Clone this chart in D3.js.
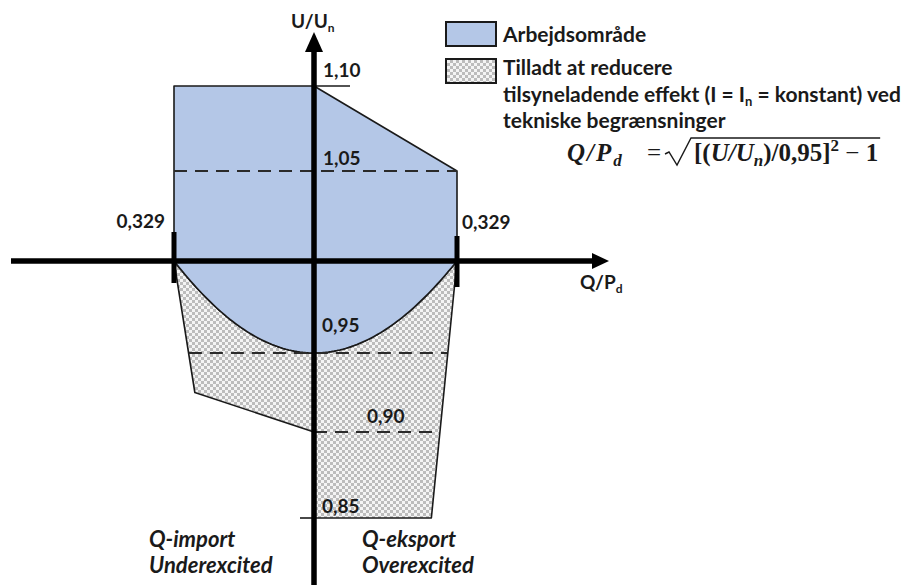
<!DOCTYPE html>
<html>
<head>
<meta charset="utf-8">
<script src="https://cdn.jsdelivr.net/npm/d3@7"></script>
<style>
body { margin: 0; background: #fff; }
text { font-family: Lato, "Open Sans", sans-serif; font-weight: bold; fill: #1a1a1a; }
</style>
</head>
<body>
<svg id="chart" width="905" height="585"></svg>
<script>
// U/Un levels marked on the vertical axis
let uTicks = [1.10, 1.05, 0.95, 0.90, 0.85];
let uTickLabels = ["1,10", "1,05", "0,95", "0,90", "0,85"];

// Q/Pd limit on both sides
let qLimit = 0.329;
let qLimitLabel = "0,329";

// Arbejdsomraade corners (Q/Pd, U/Un); the lower edge follows the formula
let workQ = [-0.329, 0, 0.329, 0.329];
let workU = [1.10, 1.10, 1.05, 1.00];

// area where apparent power may be reduced (below the curve)
let reduceQ = [0.329, 0.27, 0, 0, -0.28, -0.329];
let reduceU = [1.00, 0.85, 0.85, 0.90, 0.925, 1.00];

// dashed level lines
let dashU = [1.05, 0.95, 0.90];
let dashFrom = [-0.329, -0.294, 0];
let dashTo = [0.329, 0.306, 0.29];

let uNom = 0.95;

let svg = d3.select("#chart");

let x = d3.scaleLinear()
    .domain([-qLimit, 0, qLimit])
    .range([174, 314, 457]);
let y = d3.scaleLinear()
    .domain([0.85, 0.90, 0.95, 1.00, 1.05, 1.10])
    .range([518, 432, 353, 261, 171, 86]);

let defs = svg.append("defs");
let pat = defs.append("pattern")
    .attr("id", "checker")
    .attr("patternUnits", "userSpaceOnUse")
    .attr("width", 6)
    .attr("height", 6);
pat.append("rect").attr("width", 6).attr("height", 6).style("fill", "#f4f4f4");
pat.append("rect").attr("width", 3).attr("height", 3).style("fill", "#bcbcbc");
pat.append("rect").attr("x", 3).attr("y", 3).attr("width", 3).attr("height", 3).style("fill", "#bcbcbc");

let blue = "#b4c7e7";
let ink = "#1a1a1a";

// Q/Pd = sqrt[(U/Un)/0,95]^2 - 1  ->  U = 0,95 * sqrt(1 + Q^2)
let curve = d3.range(-qLimit, qLimit + 1e-9, qLimit / 50)
    .map((q) => [q, uNom * Math.sqrt(1 + q * q)]);

let line = d3.line()
    .x((d) => x(d[0]))
    .y((d) => y(d[1]));

let workPts = workQ.map((q, i) => [q, workU[i]])
    .concat(curve.slice().reverse());
let reducePts = curve.concat(reduceQ.map((q, i) => [q, reduceU[i]]));

svg.append("path")
    .attr("d", line(reducePts) + "Z")
    .style("fill", "url(#checker)")
    .style("stroke", ink)
    .style("stroke-width", 1.6)
    .style("stroke-linejoin", "round");

svg.append("path")
    .attr("d", line(workPts) + "Z")
    .style("fill", blue)
    .style("stroke", ink)
    .style("stroke-width", 1.6)
    .style("stroke-linejoin", "round");

// dashed levels
svg.selectAll("line.dash")
    .data(dashU)
    .enter().append("line")
    .attr("class", "dash")
    .attr("x1", (d, i) => x(dashFrom[i]))
    .attr("x2", (d, i) => x(dashTo[i]))
    .attr("y1", (d) => y(d))
    .attr("y2", (d) => y(d))
    .style("stroke", "#2a2a2a")
    .style("stroke-width", 2)
    .style("stroke-dasharray", "13,8");

// short tick lines at 1,10 and 0,85
svg.append("line")
    .attr("x1", x(0)).attr("x2", x(0) + 36)
    .attr("y1", y(1.10)).attr("y2", y(1.10))
    .style("stroke", ink).style("stroke-width", 1.6);
svg.append("line")
    .attr("x1", x(0) - 14).attr("x2", x(0))
    .attr("y1", y(0.85)).attr("y2", y(0.85))
    .style("stroke", ink).style("stroke-width", 1.6);

// axes
let axisY = y(1.00);
svg.append("line")
    .attr("x1", 11).attr("x2", 594)
    .attr("y1", axisY).attr("y2", axisY)
    .style("stroke", "#000").style("stroke-width", 5.5);
svg.append("path")
    .attr("d", `M${609},${axisY} L${592},${axisY - 8} L${592},${axisY + 8} Z`)
    .style("fill", "#000");
svg.append("line")
    .attr("x1", x(0)).attr("x2", x(0))
    .attr("y1", 585).attr("y2", 50)
    .style("stroke", "#000").style("stroke-width", 5.5);
svg.append("path")
    .attr("d", `M${x(0)},${32} L${x(0) - 9},${52} L${x(0) + 9},${52} Z`)
    .style("fill", "#000");

// thick markers at +-0,329
svg.selectAll("line.limit")
    .data([-qLimit, qLimit])
    .enter().append("line")
    .attr("class", "limit")
    .attr("x1", (d) => x(d)).attr("x2", (d) => x(d))
    .attr("y1", (d, i) => axisY - (i == 0 ? 29 : 25))
    .attr("y2", (d, i) => axisY + (i == 0 ? 22 : 26))
    .style("stroke", "#000").style("stroke-width", 5);

// U tick labels
let tickOff = [[9, -9], [9, -6], [8, -21], [53, -9], [8, -5]];
svg.selectAll("text.utick")
    .data(uTicks)
    .enter().append("text")
    .attr("class", "utick")
    .attr("x", (d, i) => x(0) + tickOff[i][0])
    .attr("y", (d, i) => y(d) + tickOff[i][1])
    .style("font-size", "19px")
    .text((d, i) => uTickLabels[i]);

// Q limit labels
svg.append("text")
    .attr("x", x(-qLimit) - 9).attr("y", axisY - 33)
    .style("font-size", "19px").style("text-anchor", "end")
    .text(qLimitLabel);
svg.append("text")
    .attr("x", x(qLimit) + 5).attr("y", axisY - 32)
    .style("font-size", "19px")
    .text(qLimitLabel);

// axis titles
let uTitle = svg.append("text").attr("x", 291).attr("y", 28).style("font-size", "19px");
uTitle.append("tspan").text("U/U");
uTitle.append("tspan").attr("dy", 4).style("font-size", "12px").text("n");

let qTitle = svg.append("text").attr("x", 580).attr("y", 289).style("font-size", "19px");
qTitle.append("tspan").text("Q/P");
qTitle.append("tspan").attr("dy", 4).style("font-size", "12px").text("d");

// quadrant notes
let notes = [
    {"x": 149, "lines": ["Q-import", "Underexcited"]},
    {"x": 362, "lines": ["Q-eksport", "Overexcited"]}
];
notes.forEach(function(n) {
    n.lines.forEach(function(t, i) {
        svg.append("text")
            .attr("x", n.x).attr("y", 547 + i * 26)
            .style("font-size", "22px")
            .style("font-style", "italic")
            .text(t);
    });
});

// legend
svg.append("rect")
    .attr("x", 446).attr("y", 22).attr("width", 50).attr("height", 24)
    .style("fill", blue).style("stroke", ink).style("stroke-width", 2);
svg.append("rect")
    .attr("x", 446).attr("y", 59).attr("width", 50).attr("height", 24)
    .style("fill", "url(#checker)").style("stroke", ink).style("stroke-width", 2);

let legSize = "21px";
svg.append("text").attr("x", 503).attr("y", 42).style("font-size", legSize).text("Arbejdsområde");
svg.append("text").attr("x", 503).attr("y", 75).style("font-size", legSize).text("Tilladt at reducere");
let l2 = svg.append("text").attr("x", 503).attr("y", 102).style("font-size", legSize);
l2.append("tspan").text("tilsyneladende effekt (I = I");
l2.append("tspan").attr("dy", 4).style("font-size", "13px").text("n");
l2.append("tspan").attr("dy", -4).text(" = konstant) ved");
svg.append("text").attr("x", 503).attr("y", 128).style("font-size", legSize).text("tekniske begrænsninger");

// formula
let fBase = 161;
let serif = "'Liberation Serif', 'DejaVu Serif', serif";
let f1 = svg.append("text").attr("x", 567).attr("y", fBase)
    .style("font-family", serif).style("font-size", "25px")
    .style("letter-spacing", "2px");
f1.append("tspan").style("font-style", "italic").text("Q");
f1.append("tspan").style("font-style", "italic").text("/");
f1.append("tspan").style("font-style", "italic").text("P");
f1.append("tspan").attr("dy", 5).style("font-style", "italic").style("font-size", "17px").text("d");

svg.append("text").attr("x", 647).attr("y", fBase)
    .style("font-family", serif).style("font-size", "25px").style("font-weight", "normal")
    .text("=");

let rootX = 665;
let f2 = svg.append("text").attr("x", 694).attr("y", fBase)
    .style("font-family", serif).style("font-size", "25px");
f2.append("tspan").text("[(");
f2.append("tspan").style("font-style", "italic").text("U");
f2.append("tspan").style("font-style", "italic").text("/");
f2.append("tspan").style("font-style", "italic").text("U");
f2.append("tspan").attr("dy", 5).style("font-style", "italic").style("font-size", "17px").text("n");
f2.append("tspan").attr("dy", -5).text(")/0,95]");
f2.append("tspan").attr("dy", -10).style("font-size", "17px").text("2");
f2.append("tspan").attr("dy", 10).style("font-weight", "normal").text(" − ");
f2.append("tspan").text("1");
let rootEnd = 694 + f2.node().getComputedTextLength() + 2;

svg.append("path")
    .attr("d", `M${rootX},${fBase - 7} L${rootX + 4},${fBase - 9} L${rootX + 12},${fBase + 4} L${rootX + 26},${fBase - 23} L${rootEnd},${fBase - 23}`)
    .style("fill", "none").style("stroke", ink).style("stroke-width", 1.4);
</script>
</body>
</html>
